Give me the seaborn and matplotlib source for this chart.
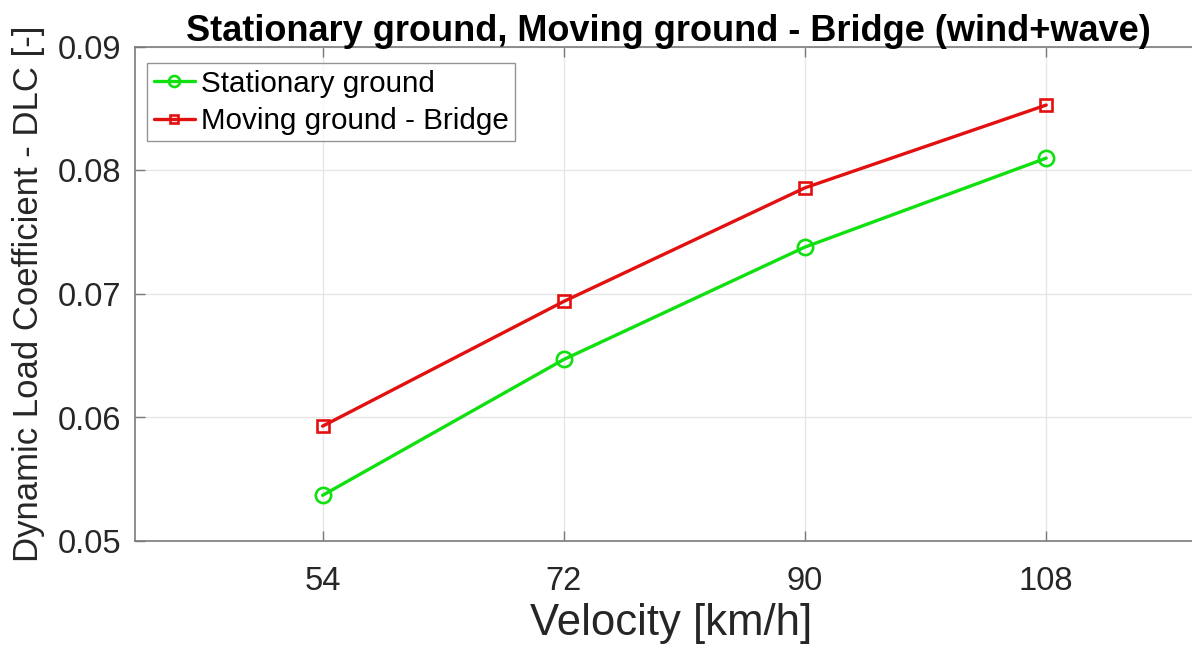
import numpy as np
import pandas as pd
import matplotlib
matplotlib.use("Agg")
import matplotlib.pyplot as plt
import seaborn as sns

# Velocity cases and dynamic load coefficients for each ground condition
velocity = [54, 72, 90, 108]
stationary_dlc = [0.0537, 0.0647, 0.0738, 0.0810]
moving_dlc = [0.0593, 0.0694, 0.0786, 0.0853]
series_names = ["Stationary ground", "Moving ground - Bridge"]
y_ticks = [0.05, 0.06, 0.07, 0.08, 0.09]
y_tick_labels = ["0.05", "0.06", "0.07", "0.08", "0.09"]

df = pd.DataFrame({
    "Velocity": velocity * 2,
    "DLC": stationary_dlc + moving_dlc,
    "Case": [series_names[0]] * len(velocity) + [series_names[1]] * len(velocity),
})

sns.set_theme(style="ticks")
plt.rcParams["font.family"] = ["Liberation Sans", "DejaVu Sans"]

W, H = 1192, 647
fig = plt.figure(figsize=(W / 100, H / 100), dpi=100)
# axes box in pixels: left 135, right 1207 (runs past the figure edge), top 47, bottom 541
ax = fig.add_axes([135 / W, (H - 541) / H, (1207 - 135) / W, (541 - 47) / H])

palette = {series_names[0]: "#10e010", series_names[1]: "#e31010"}
markers = {series_names[0]: "o", series_names[1]: "s"}
sizes = {series_names[0]: 11, series_names[1]: 8.5}

for name in series_names:
    sub = df[df["Case"] == name]
    sns.lineplot(data=sub, x="Velocity", y="DLC", ax=ax, color=palette[name],
                 marker=markers[name], markersize=sizes[name],
                 markerfacecolor="none", markeredgecolor=palette[name],
                 markeredgewidth=1.9, linewidth=2.4, label=name)

ax.set_xlim(40, 120)
ax.set_ylim(0.05, 0.09)
ax.set_xticks(velocity)
ax.set_xticklabels([str(v) for v in velocity])
ax.set_yticks(y_ticks)
ax.set_yticklabels(y_tick_labels)

ax.grid(True, color="#e6e6e6", linewidth=1.0)
ax.set_axisbelow(True)
for side in ["left", "bottom", "top"]:
    ax.spines[side].set_color("#7a7a7a")
    ax.spines[side].set_linewidth(1.2)
ax.spines["right"].set_visible(False)

ax.tick_params(axis="both", direction="in", length=7.5, width=1.0,
               color="#7a7a7a", labelsize=23.5, labelcolor="#262626",
               top=True, right=False)
ax.tick_params(axis="x", pad=18)
ax.tick_params(axis="y", pad=10)

ax.set_xlabel("Velocity [km/h]", fontsize=31.5, color="#262626", labelpad=4)
ax.set_ylabel("Dynamic Load Coefficient - DLC [-]", fontsize=25, color="#262626", labelpad=9)
ax.set_title("Stationary ground, Moving ground - Bridge (wind+wave)",
             fontsize=26, fontweight="bold", color="black", pad=4, x=(668 - 135) / (1207 - 135))

leg = ax.legend(loc="upper left", bbox_to_anchor=((147 - 135) / 1072, (541 - 63) / 494),
                fontsize=21.3, frameon=True, fancybox=False, edgecolor="#7a7a7a",
                handlelength=1.4, handletextpad=0.2, borderpad=0.22,
                labelspacing=0.32, borderaxespad=0, markerscale=0.72)
leg.get_frame().set_linewidth(1.0)
for t in leg.get_texts():
    t.set_color("black")

fig.savefig("out.png", dpi=100)
